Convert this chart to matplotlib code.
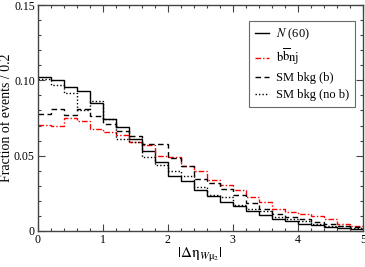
import numpy as np
import matplotlib
matplotlib.use("Agg")
import matplotlib.pyplot as plt
from matplotlib.ticker import MultipleLocator, FuncFormatter

plt.rcParams['font.family'] = ['Liberation Serif', 'DejaVu Serif']
plt.rcParams['mathtext.fontset'] = 'stix'

bin_width = 0.2
x_min, x_max = 0.0, 5.0

n60 = [0.1025, 0.1000, 0.0957, 0.0928, 0.0848, 0.0743, 0.0690, 0.0610, 0.0532, 0.0457,
       0.0362, 0.0332, 0.0275, 0.0232, 0.0195, 0.0164, 0.0133, 0.0108, 0.0080, 0.0063,
       0.0048, 0.0039, 0.0028, 0.0020, 0.0014]
bbnj = [0.0701, 0.0699, 0.0749, 0.0732, 0.0676, 0.0655, 0.0640, 0.0593, 0.0571, 0.0498,
        0.0488, 0.0432, 0.0396, 0.0336, 0.0307, 0.0270, 0.0228, 0.0195, 0.0148, 0.0128,
        0.0111, 0.0100, 0.0080, 0.0046, 0.0035]
sm_b = [0.0774, 0.0808, 0.0772, 0.0808, 0.0763, 0.0707, 0.0664, 0.0630, 0.0575, 0.0575,
        0.0487, 0.0432, 0.0346, 0.0320, 0.0277, 0.0241, 0.0184, 0.0148, 0.0115, 0.0091,
        0.0078, 0.0062, 0.0046, 0.0033, 0.0025]
sm_nob = [0.1012, 0.0970, 0.0916, 0.0805, 0.0866, 0.0742, 0.0610, 0.0590, 0.0493, 0.0438,
          0.0396, 0.0365, 0.0294, 0.0239, 0.0228, 0.0170, 0.0148, 0.0133, 0.0095, 0.0082,
          0.0066, 0.0046, 0.0033, 0.0030, 0.0020]

labels = [r'$N$ (60)', r'$\mathrm{b\overline{b}nj}$', 'SM bkg (b)', 'SM bkg (no b)']

edges = np.arange(len(n60) + 1) * bin_width + x_min

fig = plt.figure(figsize=(3.65, 2.67), dpi=100)
ax = fig.add_axes([0.103, 0.135, 0.891, 0.846])

ax.stairs(n60, edges, color='black', lw=1.0, linestyle='-', label=labels[0], baseline=None)
ax.stairs(bbnj, edges, color='red', lw=1.0, linestyle=(0, (4, 1.5, 1, 1.5)), label=labels[1], baseline=None)
ax.stairs(sm_b, edges, color='black', lw=1.0, linestyle=(0, (4, 2.5)), label=labels[2], baseline=None)
ax.stairs(sm_nob, edges, color='black', lw=1.0, linestyle=(0, (1, 1.5)), label=labels[3], baseline=None)

ax.set_xlim(x_min, x_max)
ax.set_ylim(0, 0.15)
ax.xaxis.set_major_locator(MultipleLocator(1))
ax.xaxis.set_minor_locator(MultipleLocator(0.2))
ax.yaxis.set_major_locator(MultipleLocator(0.05))
ax.yaxis.set_minor_locator(MultipleLocator(0.01))
ax.yaxis.set_major_formatter(FuncFormatter(lambda v, p: '0' if abs(v) < 1e-9 else f'{v:.2f}'))
ax.xaxis.set_major_formatter(FuncFormatter(lambda v, p: f'{int(round(v))}'))
ax.tick_params(which='both', direction='in', top=True, right=True, labelsize=8.5, pad=2, color='#444444')
ax.tick_params(which='major', length=5, width=0.8)
ax.tick_params(which='minor', length=2.5, width=0.8)
for s in ax.spines.values():
    s.set_color('#444444')
    s.set_linewidth(1.0)

ax.set_ylabel('Fraction of events / 0.2', fontsize=10)
ax.yaxis.set_label_coords(-0.076, 0.5)
ax.set_xlabel(r'$|\Delta\mathrm{\eta}_{W\mathrm{\mu}_2}|$', fontsize=11, labelpad=0)

leg = ax.legend(loc='upper right', bbox_to_anchor=(0.976, 0.929), fontsize=9, frameon=True,
                fancybox=False, edgecolor='#444444', handlelength=1.1, handletextpad=0.6,
                borderpad=0.45, labelspacing=0.4, borderaxespad=0)
leg.get_frame().set_linewidth(0.8)

fig.savefig('out.png', dpi=100)
